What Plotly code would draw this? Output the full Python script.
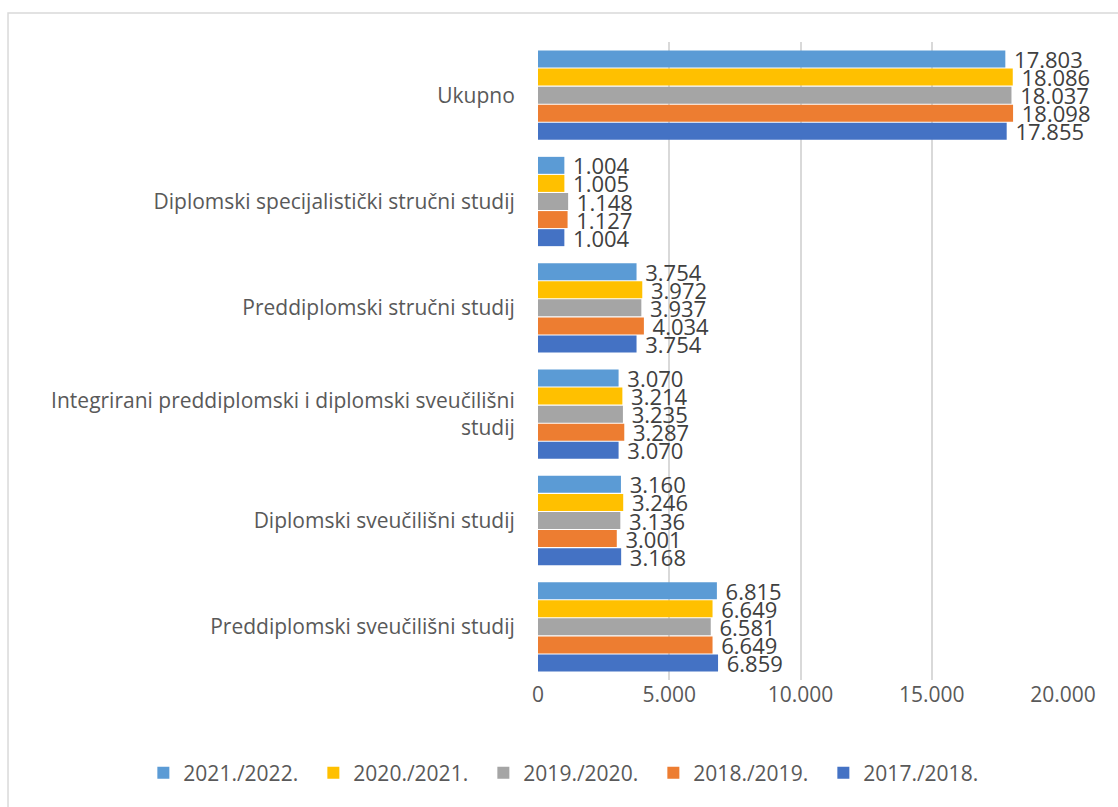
import plotly.graph_objs as go

categories = [
    "Preddiplomski sveučilišni studij",
    "Diplomski sveučilišni studij",
    "Integrirani preddiplomski i diplomski sveučilišni<br>studij",
    "Preddiplomski stručni studij",
    "Diplomski specijalistički stručni studij",
    "Ukupno",
]

years = ["2017./2018.", "2018./2019.", "2019./2020.", "2020./2021.", "2021./2022."]

v_2017 = [6859, 3168, 3070, 3754, 1004, 17855]
v_2018 = [6649, 3001, 3287, 4034, 1127, 18098]
v_2019 = [6581, 3136, 3235, 3937, 1148, 18037]
v_2020 = [6649, 3246, 3214, 3972, 1005, 18086]
v_2021 = [6815, 3160, 3070, 3754, 1004, 17803]

values = [v_2017, v_2018, v_2019, v_2020, v_2021]
colors = ["#4472C4", "#ED7D31", "#A5A5A5", "#FFC000", "#5B9BD5"]

FONT = "Open Sans"

fig = go.Figure()
for name, vals, col in zip(years, values, colors):
    fig.add_trace(go.Bar(
        name=name, y=categories, x=vals, orientation='h',
        marker=dict(color=col, line=dict(width=0)),
        texttemplate=' %{x:,d}', textposition='outside',
        textfont=dict(family=FONT, size=22, color='#404040'),
        constraintext='none', cliponaxis=False,
    ))

# outer chart border
fig.add_shape(type='rect', xref='paper', yref='paper',
              x0=-1.0095, x1=1.3, y0=-0.3, y1=1.0455,
              line=dict(color='#D9D9D9', width=1.5), layer='above')

fig.update_layout(
    width=1118, height=807,
    margin=dict(l=538, r=55, t=42, b=127),
    barmode='group', bargap=0.15, bargroupgap=0.06,
    separators=',.',
    paper_bgcolor='white', plot_bgcolor='white',
    font=dict(family=FONT, size=21, color='#595959'),
    showlegend=True,
    legend=dict(orientation='h', traceorder='reversed',
                x=-0.7517, xanchor='left', y=-0.146, yanchor='middle',
                entrywidth=125, entrywidthmode='pixels',
                font=dict(family=FONT, size=21, color='#595959')),
    xaxis=dict(range=[0, 20000], dtick=5000, tickformat=',d',
               showgrid=True, gridcolor='#D9D9D9', gridwidth=1.5,
               zeroline=False, showline=False, ticks='', automargin=False),
    yaxis=dict(type='category', showgrid=False, zeroline=False,
               showline=False, ticks='outside', ticklen=18, tickcolor='white',
               automargin=False),
)

fig.write_html("out.html", config={'displayModeBar': False},
               post_script="document.body.style.margin='0';")
